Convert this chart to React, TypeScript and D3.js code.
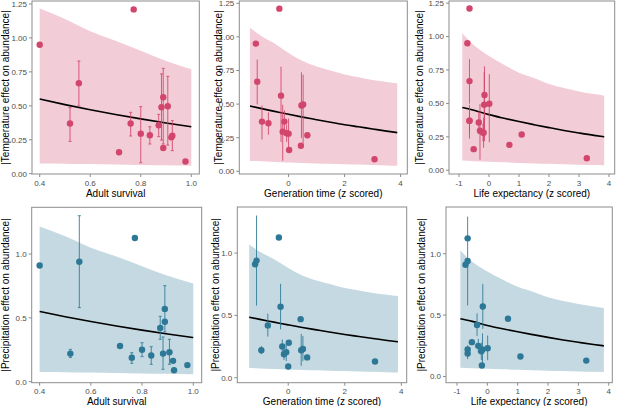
import React from "react";
import * as d3 from "d3";

// ---- species-level data (16 species) ----
const adultSurvival = [0.40, 0.772, 0.52, 0.555, 0.714, 0.76, 0.871, 0.889, 0.80, 0.836, 0.921, 0.925, 0.882, 0.907, 0.889, 0.977];
const generationTime = [-1.17, -0.33, -0.95, -1.12, 0.02, -0.15, -0.72, -0.27, -0.21, -0.07, 0.67, 0.0, 0.46, 0.52, 0.44, 3.07];
const lifeExpectancy = [-0.72, -0.65, -0.65, -0.65, -0.51, -0.65, -0.34, -0.15, -0.30, -0.20, 1.09, -0.18, -0.16, 0.01, 0.68, 3.26];

const tempEffect = [0.95, 1.21, 0.37, 0.667, 0.158, 0.37, 0.357, 0.563, 0.295, 0.283, 0.268, 0.28, 0.49, 0.497, 0.19, 0.09];
const tempLow = [null, null, 0.238, 0.499, null, 0.278, 0.273, 0.219, 0.081, 0.219, null, 0.17, 0.248, 0.211, null, null];
const tempHigh = [null, null, 0.487, 0.83, null, 0.452, 0.437, 0.776, 0.494, 0.346, null, 0.391, 0.735, 0.717, null, null];

const precEffect = [0.91, 1.125, 0.22, 0.94, 0.28, 0.188, 0.42, 0.57, 0.25, 0.205, 0.163, 0.09, 0.22, 0.23, 0.47, 0.13];
const precLow = [null, null, 0.19, 0.58, null, 0.144, 0.332, 0.39, 0.196, 0.136, null, null, 0.097, 0.136, null, null];
const precHigh = [null, null, 0.253, 1.30, null, 0.227, 0.512, 0.752, 0.305, 0.274, null, null, 0.35, 0.332, null, null];

// ---- model fits ----
const survivalGrid = [0.4, 0.5, 0.6, 0.7, 0.8, 0.9, 1.0];
const survivalFit = [0.55, 0.509, 0.471, 0.436, 0.404, 0.374, 0.346];
const survivalUpper = [1.216, 1.14, 1.05, 0.98, 0.905, 0.83, 0.77];
const survivalLower = [0.076, 0.074, 0.071, 0.068, 0.065, 0.062, 0.059];

const genGrid = [-1.38, -1, -0.5, 0, 0.5, 1, 1.5, 2, 2.5, 3, 3.5, 3.88];
const genFit = [0.486, 0.468, 0.446, 0.424, 0.403, 0.384, 0.365, 0.347, 0.331, 0.315, 0.299, 0.288];
const genUpper = [1.07, 1.01, 0.95, 0.88, 0.82, 0.78, 0.75, 0.72, 0.70, 0.68, 0.665, 0.655];
const genLower = [0.077, 0.074, 0.070, 0.066, 0.062, 0.059, 0.056, 0.053, 0.050, 0.047, 0.044, 0.042];

const lifeGrid = [-0.89, -0.5, 0, 0.5, 1, 1.5, 2, 2.5, 3, 3.5, 3.84];
const lifeFit = [0.47, 0.449, 0.416, 0.389, 0.364, 0.341, 0.319, 0.298, 0.279, 0.261, 0.25];
const lifeUpper = [1.025, 0.935, 0.855, 0.79, 0.73, 0.69, 0.645, 0.615, 0.59, 0.57, 0.5575];
const lifeLower = [0.0725, 0.068, 0.063, 0.059, 0.055, 0.051, 0.048, 0.045, 0.042, 0.039, 0.0375];

// ---- tick labels ----
const survivalTicks = [0.4, 0.6, 0.8, 1.0];
const genTicks = [0, 2, 4];
const lifeTicks = [-1, 0, 1, 2, 3, 4];
const tempTicks = [0, 0.25, 0.5, 0.75, 1.0, 1.25];
const precTicks = [0, 0.5, 1.0];

const xTitles = { surv: "Adult survival", gen: "Generation time (z scored)", life: "Life expectancy (z scored)" };
const yTitles = { temp: "|Temperature effect on abundance|", prec: "|Precipitation effect on abundance|" };

const traits: any = {
  surv: { values: adultSurvival, grid: survivalGrid, fit: survivalFit, upper: survivalUpper, lower: survivalLower, ticks: survivalTicks, fmt: d3.format(".1f") },
  gen: { values: generationTime, grid: genGrid, fit: genFit, upper: genUpper, lower: genLower, ticks: genTicks, fmt: d3.format("d") },
  life: { values: lifeExpectancy, grid: lifeGrid, fit: lifeFit, upper: lifeUpper, lower: lifeLower, ticks: lifeTicks, fmt: d3.format("d") },
};
const responses: any = {
  temp: { values: tempEffect, lo: tempLow, hi: tempHigh, ticks: tempTicks, fmt: d3.format(".2f"), point: "#d2456c", ribbon: "#f2ccd6" },
  prec: { values: precEffect, lo: precLow, hi: precHigh, ticks: precTicks, fmt: d3.format(".1f"), point: "#2d7896", ribbon: "#c4d9e1" },
};

const panels = [
  { t: "surv", r: "temp", left: 32, right: 199.3, top: 1, bottom: 174, xd: [0.3695, 1.0317], yd: [-0.002, 1.272], titleX: 8.6, xTitleDy: 22.5 },
  { t: "gen", r: "temp", left: 239.3, right: 407.3, top: 1, bottom: 174, xd: [-1.76, 4.24], yd: [-0.02, 1.267], titleX: 222.3, xTitleDy: 22.5 },
  { t: "life", r: "temp", left: 449, right: 614.7, top: 1, bottom: 174, xd: [-1.333, 4.19], yd: [-0.028, 1.266], titleX: 422.7, xTitleDy: 22.5 },
  { t: "surv", r: "prec", left: 31.7, right: 201.7, top: 207.3, bottom: 382.7, xd: [0.369, 1.033], yd: [-0.008, 1.366], titleX: 9.2, xTitleDy: 21.8 },
  { t: "gen", r: "prec", left: 237.3, right: 406.7, top: 207, bottom: 382.7, xd: [-1.8, 4.19], yd: [-0.04, 1.37], titleX: 219.2, xTitleDy: 21.8 },
  { t: "life", r: "prec", left: 446, right: 612.3, top: 207, bottom: 382.7, xd: [-1.363, 4.118], yd: [-0.05, 1.38], titleX: 425, xTitleDy: 21.8 },
];

const FONT = "'Liberation Sans', Arial, Helvetica, sans-serif";
const AXIS = "#8c8c8c";

function Panel({ p }: { p: any }) {
  const tr = traits[p.t];
  const rs = responses[p.r];
  const x = d3.scaleLinear().domain(p.xd).range([p.left, p.right]);
  const y = d3.scaleLinear().domain(p.yd).range([p.bottom, p.top]);
  const idx = d3.range(tr.grid.length);
  const area = d3.area<number>().x((i) => x(tr.grid[i])).y0((i) => y(tr.lower[i])).y1((i) => y(tr.upper[i])).curve(d3.curveMonotoneX);
  const line = d3.line<number>().x((i) => x(tr.grid[i])).y((i) => y(tr.fit[i])).curve(d3.curveMonotoneX);
  const cap = 0.006;
  const cy = (p.top + p.bottom) / 2;
  const cx = (p.left + p.right) / 2;
  return (
    <g>
      <path d={area(idx) || ""} fill={rs.ribbon} />
      <path d={line(idx) || ""} fill="none" stroke="#000" strokeWidth={1.6} />
      {tr.values.map((v: number, i: number) => {
        const lo = rs.lo[i];
        const hi = rs.hi[i];
        if (lo == null || hi == null) return null;
        return (
          <g key={"e" + i} stroke={rs.point} strokeWidth={1} opacity={0.85}>
            <line x1={x(v)} x2={x(v)} y1={y(lo)} y2={y(hi)} />
            <line x1={x(v - cap)} x2={x(v + cap)} y1={y(lo)} y2={y(lo)} />
            <line x1={x(v - cap)} x2={x(v + cap)} y1={y(hi)} y2={y(hi)} />
          </g>
        );
      })}
      {tr.values.map((v: number, i: number) => (
        <circle key={"p" + i} cx={x(v)} cy={y(rs.values[i])} r={3.2} fill={rs.point} />
      ))}
      <rect x={p.left} y={p.top} width={p.right - p.left} height={p.bottom - p.top} fill="none" stroke={AXIS} strokeWidth={1} />
      {tr.ticks.map((t: number) => (
        <g key={"xt" + t}>
          <line x1={x(t)} x2={x(t)} y1={p.bottom} y2={p.bottom + 3} stroke={AXIS} />
          <text x={x(t)} y={p.bottom + 11.5} textAnchor="middle" fontSize={8} fill="#4d4d4d" fontFamily={FONT}>
            {t < 0 ? "-" + tr.fmt(-t) : tr.fmt(t)}
          </text>
        </g>
      ))}
      {rs.ticks.map((t: number) => (
        <g key={"yt" + t}>
          <line x1={p.left - 3} x2={p.left} y1={y(t)} y2={y(t)} stroke={AXIS} />
          <text x={p.left - 5} y={y(t) + 2.9} textAnchor="end" fontSize={8} fill="#4d4d4d" fontFamily={FONT}>
            {rs.fmt(t)}
          </text>
        </g>
      ))}
      <text x={cx} y={p.bottom + p.xTitleDy} textAnchor="middle" fontSize={10} fill="#000" fontFamily={FONT}>
        {(xTitles as any)[p.t]}
      </text>
      <text
        transform={`translate(${p.titleX},${cy}) rotate(-90)`}
        textAnchor="middle"
        fontSize={10}
        fill="#000"
        fontFamily={FONT}
      >
        {(yTitles as any)[p.r]}
      </text>
    </g>
  );
}

export default function App() {
  return (
    <svg width={617} height={406} style={{ position: "absolute", left: 0, top: 0, background: "#fff" }}>
      <rect width={617} height={406} fill="#fff" />
      {panels.map((p, i) => (
        <Panel key={i} p={p} />
      ))}
    </svg>
  );
}
